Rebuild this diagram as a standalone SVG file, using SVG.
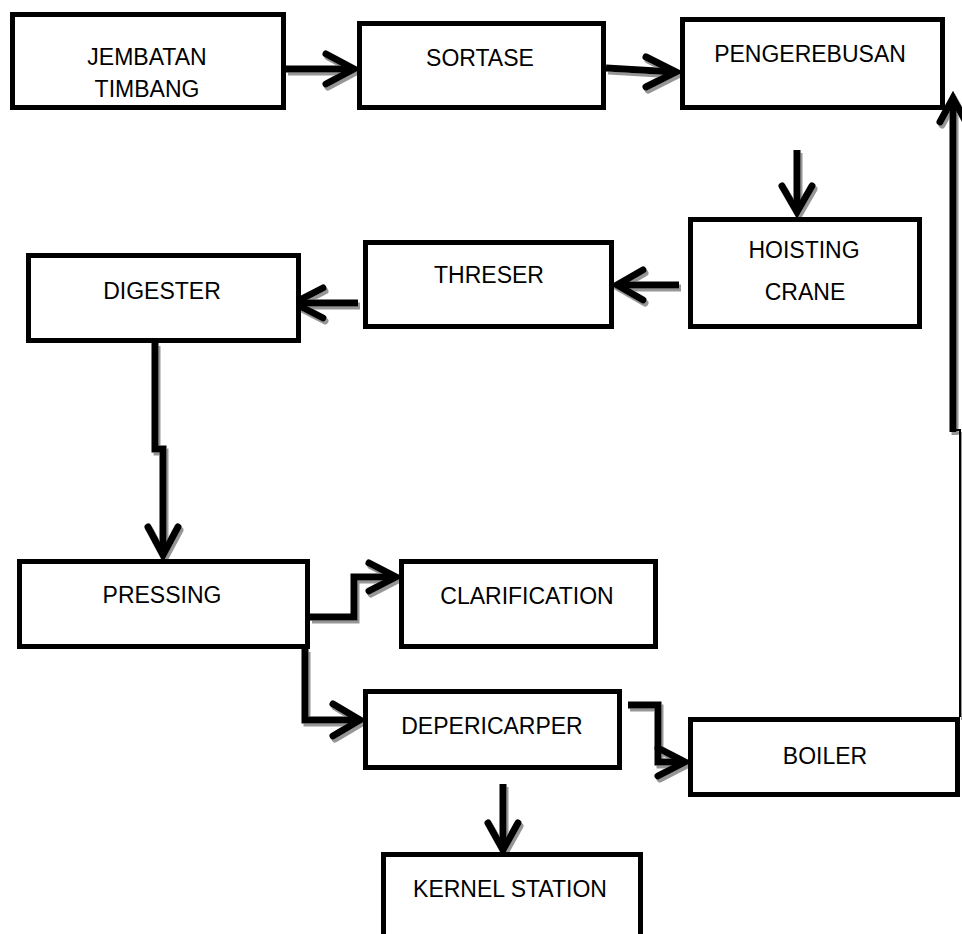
<svg xmlns="http://www.w3.org/2000/svg" width="962" height="934" viewBox="0 0 962 934">
<style>
.box{fill:#fff;stroke:#000;stroke-width:5}
.lbl{font-family:"Liberation Sans",Arial,sans-serif;font-size:23px;fill:#000;text-anchor:middle}
.ln{fill:none;stroke:#000;stroke-width:7;stroke-linejoin:miter}
.hd{fill:none;stroke:#000;stroke-width:7;stroke-linecap:round;stroke-linejoin:miter}
.thin{fill:none;stroke:#000;stroke-width:2}
</style>
<defs>
<filter id="sh" x="-20%" y="-20%" width="140%" height="140%">
<feDropShadow dx="2" dy="3" stdDeviation="0.6" flood-color="#8a8a8a" flood-opacity="0.9"/>
</filter>
</defs>
<rect width="962" height="934" fill="#fff"/>
<g id="connectors" filter="url(#sh)">
<path class="ln" d="M286,69 H352"/><path class="hd" d="M326,54 L354,69 L326,84"/>
<path class="ln" d="M606,68 L674,72"/><path class="hd" d="M646,57 L676,72 L646,87"/>
<path class="ln" d="M797,150 V210"/><path class="hd" d="M782,186 L797,212 L812,186"/>
<path class="ln" d="M679,285 H620"/><path class="hd" d="M643,270 L617,285 L643,300"/>
<path class="ln" d="M358,303 H297"/><path class="hd" d="M323,288 L294,303 L323,318"/>
<path class="ln" d="M155,343 V449 H163 V552"/><path class="hd" d="M148,527 L163,555 L178,527"/>
<path class="ln" d="M310,617 H354 V577 H392"/><path class="hd" d="M369,563 L396,577 L369,591"/>
<path class="ln" d="M305,649 V720 H356"/><path class="hd" d="M333,704 L360,720 L333,736"/>
<path class="ln" d="M628,705 H658 V762 H682"/><path class="hd" d="M658,748 L685,762 L658,776"/>
<path class="ln" d="M503,784 V848"/><path class="hd" d="M488,823 L503,850 L518,823"/>
<path class="thin" d="M960,717 V430 H953"/>
<path class="ln" d="M953,432 V102"/><path class="hd" d="M940,122 L953,98 L966,122"/>
</g>
<g id="n-jembatan"><rect class="box" x="12.5" y="14.5" width="271" height="93"/><text class="lbl" x="147" y="65">JEMBATAN</text><text class="lbl" x="147" y="97">TIMBANG</text></g>
<g id="n-sortase"><rect class="box" x="359.5" y="23.5" width="244" height="84"/><text class="lbl" x="480" y="66">SORTASE</text></g>
<g id="n-pengerebusan"><rect class="box" x="682.5" y="19.5" width="260" height="88"/><text class="lbl" x="810" y="62">PENGEREBUSAN</text></g>
<g id="n-hoisting"><rect class="box" x="690.5" y="219.5" width="229" height="107"/><text class="lbl" x="804" y="258">HOISTING</text><text class="lbl" x="805" y="300">CRANE</text></g>
<g id="n-threser"><rect class="box" x="365.5" y="242.5" width="246" height="84"/><text class="lbl" x="489" y="283">THRESER</text></g>
<g id="n-digester"><rect class="box" x="28.5" y="255.5" width="270" height="85"/><text class="lbl" x="162" y="299">DIGESTER</text></g>
<g id="n-pressing"><rect class="box" x="19.5" y="561.5" width="288" height="85"/><text class="lbl" x="162" y="603">PRESSING</text></g>
<g id="n-clarification"><rect class="box" x="401.5" y="561.5" width="254" height="85"/><text class="lbl" x="527" y="604">CLARIFICATION</text></g>
<g id="n-depericarper"><rect class="box" x="365.5" y="691.5" width="254" height="76"/><text class="lbl" x="492" y="734">DEPERICARPER</text></g>
<g id="n-boiler"><rect class="box" x="690.5" y="719.5" width="267" height="75"/><text class="lbl" x="825" y="764">BOILER</text></g>
<g id="n-kernel"><rect class="box" x="383.5" y="854.5" width="257" height="90"/><text class="lbl" x="510" y="897">KERNEL STATION</text></g>
</svg>
